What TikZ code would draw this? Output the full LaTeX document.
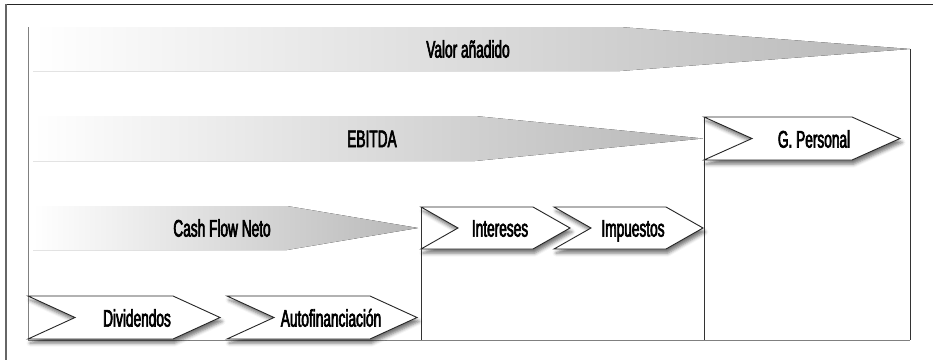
\documentclass[tikz,border=0pt]{standalone}
\usepackage{fontspec}
\setmainfont{Liberation Sans}[FakeStretch=0.57,FakeBold=2.6]
\usetikzlibrary{shadows.blur}
\newcommand\bigarr[5]{% x0 x1 xtip ytop ybot
  \fill[bigarrow] (#1,#4) -- (#2,#4) -- (#3,{(#4+#5)/2}) -- (#2,#5) -- (#1,#5) -- cycle;}
\newcommand\chevron[5]{% x0 x1 ytop ybot depth
  \path[chevbox] (#1,#3) -- ({#2-#5},#3) -- (#2,{(#3+#4)/2}) -- ({#2-#5},#4) -- (#1,#4) -- ({#1+#5},{(#3+#4)/2}) -- cycle;}
\begin{document}
\begin{tikzpicture}[x=1pt,y=1pt,
  lbl/.style={font=\fontsize{24}{24}\selectfont, inner sep=0pt, anchor=base, text=black, yshift=-8.6pt},
  chevbox/.style={draw=black!85, line width=0.9pt, fill=white, line join=miter,
    blur shadow={shadow xshift=2pt, shadow yshift=-4pt, shadow blur radius=3.5pt, shadow opacity=55}},
  bigarrow/.style={left color=white, right color=black!28},
  thinline/.style={draw=black!80, line width=0.6pt},
  grayline/.style={draw=black!50, line width=1pt}]
\useasboundingbox (0,0) rectangle (933,360);
% outer frame
\coordinate (otl) at (6,356);
\coordinate (otr) at (933,356);
\coordinate (obl) at (6,0);
\draw[draw=black!85, line width=1pt] (otl) -- (otr);
\draw[draw=black!60, line width=1.6pt] (otl) -- (obl);
% big gradient arrows
\bigarr{33}{620}{910}{333}{289}
\bigarr{33}{475}{703}{244}{199}
\bigarr{33}{287}{418}{154}{110}
% frame lines
\coordinate (itl) at (28,333);
\coordinate (ibl) at (28,20);
\coordinate (ibr) at (910,20);
\coordinate (itr) at (910,311);
\coordinate (s1t) at (421,153);
\coordinate (s1b) at (421,20);
\coordinate (s2t) at (704,243);
\coordinate (s2b) at (704,20);
\draw[grayline] (itl) -- (ibl) -- (ibr);
\draw[thinline] (itr) -- (ibr);
\draw[thinline] (s1t) -- (s1b);
\draw[thinline] (s2t) -- (s2b);
% chevrons
\chevron{28}{220}{64}{21}{47}
\chevron{227}{417}{64}{21}{47}
\chevron{421}{570}{153}{111}{37}
\chevron{554}{703}{153}{111}{37}
\chevron{704}{900}{243}{200}{48}
% labels
\node[lbl] (valor) at (468,311) {Valor añadido};
\node[lbl] (ebitda) at (372,221.5) {EBITDA};
\node[lbl] (cash) at (222,132) {Cash Flow Neto};
\node[lbl] (div) at (137,42) {Dividendos};
\node[lbl] (auto) at (331,42) {Autofinanciación};
\node[lbl] (int) at (500,132) {Intereses};
\node[lbl] (imp) at (633,132) {Impuestos};
\node[lbl] (gp) at (814,221) {G. Personal};
\end{tikzpicture}
\end{document}
